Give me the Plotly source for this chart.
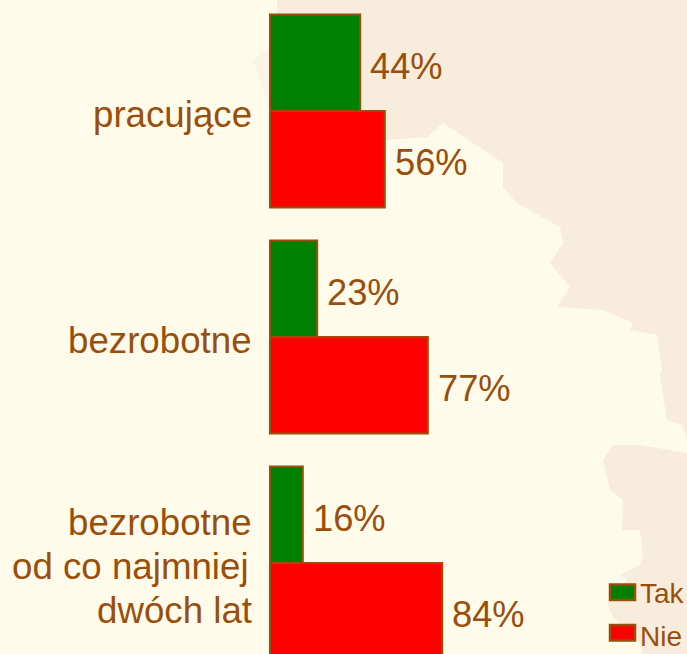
import plotly.graph_objects as go

categories = ["pracujące", "bezrobotne", "bezrobotne<br>od co najmniej<br>dwóch lat"]
series_names = ["Tak", "Nie"]
tak_values = [44, 23, 16]
nie_values = [56, 77, 84]
tak_labels = ["44%", "23%", "16%"]
nie_labels = ["56%", "77%", "84%"]
map_upper = [(277,0),(687,0),(687,440),(682,425),(667,420),(660,375),(662,370),(657,335),(630,330),(633,323),
             (603,310),(557,307),(570,287),(550,263),(563,243),(560,227),(517,203),(503,187),(503,163),
             (473,143),(443,123),(427,137),(387,140),(270,110),(277,43)]
map_bump = [(277,43),(253,60),(263,90),(270,110)]
map_lower = [(687,453),(640,445),(613,445),(603,460),(610,490),(623,500),(622,530),(640,530),(643,555),
             (640,565),(620,575),(627,580),(607,603),(613,617),(640,643),(642,654),(687,654)]

W, H = 687, 654
L = 250
BAR0 = 270
SCALE = 2.05
TEXT = "#994F0B"
BG = "#FFFBEA"
MAP = "#F8ECDD"
MAP_FAINT = "#FBF4E4"
FONT = "Liberation Sans, Arial, sans-serif"

def px(x):
    return (x - L) / (W - L)

def py(y):
    return 1 - y / H

def path(points):
    return "M" + "L".join(f"{px(x):.4f},{py(y):.4f}" for x, y in points) + "Z"

fig = go.Figure()
cat_index = list(range(len(categories)))
for name, vals, col in [(series_names[0], tak_values, "#008000"),
                        (series_names[1], nie_values, "#FF0000")]:
    fig.add_trace(go.Bar(
        name=name, y=cat_index, x=vals, orientation="h", cliponaxis=True,
        marker=dict(color=col, line=dict(color=TEXT, width=2)),
    ))

shapes = [dict(type="path", xref="paper", yref="paper", path=path(p), fillcolor=c,
               line=dict(width=0), layer="below")
          for p, c in ((map_upper, MAP), (map_lower, MAP), (map_bump, MAP_FAINT))]
annotations = []
# value labels beside each bar
for vals, labs, dy in [(tak_values, tak_labels, 44.5), (nie_values, nie_labels, -51.5)]:
    for i, (v, t) in enumerate(zip(vals, labs)):
        annotations.append(dict(xref="x", yref="y", x=v, y=i, text=t, showarrow=False,
                                xanchor="left", yanchor="middle", xshift=8, yshift=dy,
                                font=dict(size=36.3, color=TEXT, family=FONT)))
# category labels, one line at a time for the tighter line spacing
for i, cat in enumerate(categories):
    lines = cat.split("<br>")
    for j, line in enumerate(lines):
        offset = (j - (len(lines) - 1) / 2) * 43.6 + 3.5
        annotations.append(dict(xref="paper", yref="y", x=px(254), y=i, text=line, showarrow=False,
                                xanchor="right", yanchor="middle", yshift=-offset,
                                xshift=-3 if line == "od co najmniej" else 0,
                                font=dict(size=36.7, color=TEXT, family=FONT)))
# legend
for i, (name, col) in enumerate(zip(series_names, ["#008000", "#FF0000"])):
    top = 584.5 + i * 40.5
    shapes.append(dict(type="rect", xref="paper", yref="paper",
                       x0=px(610), x1=px(635), y0=py(top), y1=py(top + 15.5),
                       fillcolor=col, line=dict(color=TEXT, width=2.5)))
    annotations.append(dict(xref="paper", yref="paper", x=px(638), y=py(top + 9 + i * 2), text=name,
                            showarrow=False, xanchor="left", yanchor="middle",
                            font=dict(size=28, color=TEXT, family=FONT)))

fig.update_layout(
    width=W, height=H, autosize=False, margin=dict(l=L, r=0, t=0, b=0),
    paper_bgcolor=BG, plot_bgcolor="rgba(0,0,0,0)",
    barmode="group", bargap=0.146, bargroupgap=0, showlegend=False,
    shapes=shapes, annotations=annotations,
    font=dict(family=FONT, color=TEXT, size=36),
    xaxis=dict(range=[(L - BAR0) / SCALE, (W - BAR0) / SCALE], visible=False, fixedrange=True),
    yaxis=dict(range=[2.403, -0.491], showgrid=False, zeroline=False, showline=False,
               showticklabels=False, ticks="", tickmode="array", tickvals=cat_index),
)
fig.write_html("out.html", config=dict(displayModeBar=False),
               post_script="document.body.style.margin='0';document.body.style.overflow='hidden';")
